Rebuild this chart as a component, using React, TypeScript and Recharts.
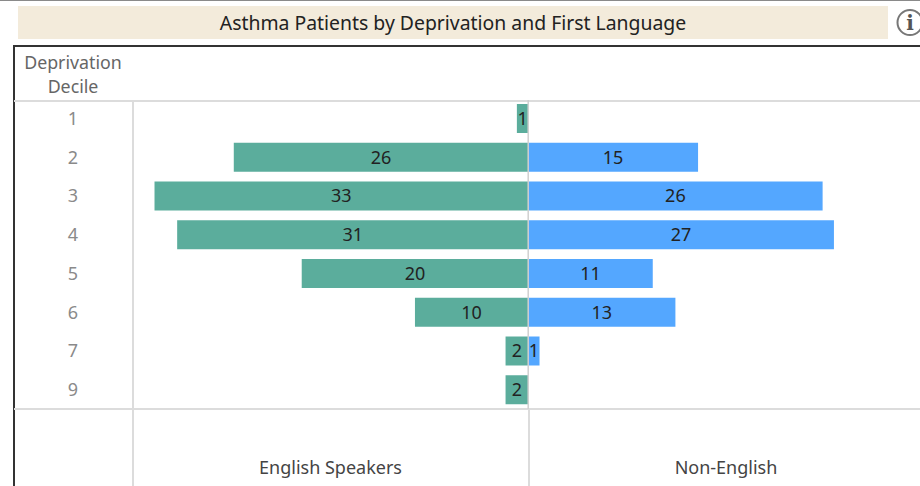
import React from "react";
import { BarChart, Bar, XAxis, YAxis, ReferenceLine, LabelList } from "recharts";

const deciles = ["1", "2", "3", "4", "5", "6", "7", "9"];
const englishSpeakers = [1, 26, 33, 31, 20, 10, 2, 2];
const nonEnglish = [null, 15, 26, 27, 11, 13, 1, null];

const rows = deciles.map((d, i) => ({
  decile: d,
  english: -englishSpeakers[i],
  other: nonEnglish[i],
}));

const FONT = "'Noto Sans', sans-serif";
const abs = (v: any) => (v == null ? "" : Math.abs(Number(v)));

const rule = (left: number, top: number, width: number, height: number, background: string) => (
  <div style={{ position: "absolute", left, top, width, height, background }} />
);

const text = (label: string, left: number, top: number, width: number, size: number, color: string) => (
  <div
    style={{
      position: "absolute",
      left,
      top,
      width,
      textAlign: "center",
      fontSize: size,
      color,
      fontFamily: FONT,
      lineHeight: "24px",
      whiteSpace: "nowrap",
    }}
  >
    {label}
  </div>
);

export default function App() {
  return (
    <div style={{ position: "absolute", left: 0, top: 0, width: 920, height: 486, overflow: "hidden", background: "#fff" }}>
      {rule(0, 0, 920, 1, "#8a8a8a")}
      <div style={{ position: "absolute", left: 18, top: 6, width: 870, height: 33, background: "#f3ebdb" }} />
      {text("Asthma Patients by Deprivation and First Language", 18, 11, 870, 19.4, "#222222")}
      <svg style={{ position: "absolute", left: 896, top: 9 }} width={24} height={28}>
        <circle cx={14} cy={13.5} r={12.5} fill="none" stroke="#777777" strokeWidth={2} />
        <text x={14} y={21} textAnchor="middle" fontSize={20} fontWeight={700} fontFamily="'DejaVu Serif', serif" fill="#555555">i</text>
      </svg>
      {rule(13, 45, 907, 1.5, "#333333")}
      {rule(13, 45, 1.5, 441, "#333333")}
      {rule(14, 100, 906, 1.5, "#dcdcdc")}
      {rule(14, 408, 906, 2, "#dcdcdc")}
      {rule(132, 100, 1.5, 386, "#dcdcdc")}
      {rule(528, 408, 1.5, 78, "#dcdcdc")}
      {text("Deprivation", 14, 50, 118, 17.8, "#666666")}
      {text("Decile", 14, 74, 118, 17.8, "#666666")}
      {text("English Speakers", 133, 455, 395, 18, "#444444")}
      {text("Non-English", 530, 455, 392, 18, "#444444")}
      <div style={{ position: "absolute", left: 0, top: 0 }}>
        <BarChart
          width={920}
          height={486}
          layout="vertical"
          data={rows}
          margin={{ top: 99, right: 0, bottom: 77, left: 0 }}
          barSize={29}
          stackOffset="sign"
        >
          <XAxis type="number" domain={[-34.9, 34.6]} hide allowDataOverflow />
          <YAxis
            type="category"
            dataKey="decile"
            width={133}
            axisLine={false}
            tickLine={false}
            interval={0}
            tick={{ fill: "#8a8a8a", fontSize: 18, fontFamily: FONT, dx: -47 }}
          />
          <Bar dataKey="english" stackId="a" fill="#5bad9c" isAnimationActive={false}>
            <LabelList dataKey="english" position="center" formatter={abs} fill="#222222" fontSize={18} fontFamily={FONT} />
          </Bar>
          <Bar dataKey="other" stackId="a" fill="#54a7ff" isAnimationActive={false}>
            <LabelList dataKey="other" position="center" formatter={abs} fill="#222222" fontSize={18} fontFamily={FONT} />
          </Bar>
          <ReferenceLine x={0} stroke="#d0d0d0" strokeWidth={1.5} />
        </BarChart>
      </div>
      {rule(526, 98, 5, 2, "#ffffff")}
    </div>
  );
}
